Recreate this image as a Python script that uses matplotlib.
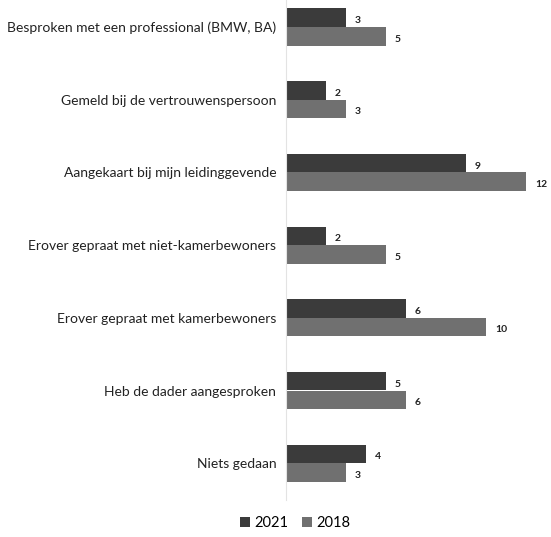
import matplotlib
matplotlib.use("Agg")
import matplotlib.pyplot as plt
import numpy as np

categories = [
    "Besproken met een professional (BMW, BA)",
    "Gemeld bij de vertrouwenspersoon",
    "Aangekaart bij mijn leidinggevende",
    "Erover gepraat met niet-kamerbewoners",
    "Erover gepraat met kamerbewoners",
    "Heb de dader aangesproken",
    "Niets gedaan",
]
values_2021 = [3, 2, 9, 2, 6, 5, 4]
values_2018 = [5, 3, 12, 5, 10, 6, 3]
series_names = ["2021", "2018"]

c2021 = "#3b3b3b"
c2018 = "#707070"

plt.rcParams['font.family'] = ['Lato', 'DejaVu Sans']

W, H = 551, 537
fig = plt.figure(figsize=(W / 100, H / 100), dpi=100)
left_px, right_px, top_px, bot_px = 286, 551, 0, 500
ax = fig.add_axes([left_px / W, 1 - bot_px / H, (right_px - left_px) / W, (bot_px - top_px) / H])

y = np.arange(len(categories))
h = 0.255
b1 = ax.barh(y - h / 2, values_2021, height=h, color=c2021, label=series_names[0])
b2 = ax.barh(y + h / 2, values_2018, height=h, color=c2018, label=series_names[1])

for bars, vals in ((b1, values_2021), (b2, values_2018)):
    for rect, v in zip(bars, vals):
        ax.text(rect.get_width() + 0.45, rect.get_y() + rect.get_height() / 2 + 0.04, str(v),
                ha="left", va="center", fontsize=7.5, fontweight="bold", color="#222222")

ax.set_xlim(0, (right_px - left_px) / 20)
ax.set_ylim((bot_px - 27) / 72.7, -27 / 72.7)
ax.set_yticks(y)
ax.set_yticklabels(categories, fontsize=10, color="#222222")
ax.tick_params(axis="y", length=0, pad=7)
ax.set_xticks([])
for s in ["top", "right", "bottom"]:
    ax.spines[s].set_visible(False)
ax.spines["left"].set_color("#e3e3e3")
ax.spines["left"].set_linewidth(0.8)

fig.legend(handles=[b1, b2], labels=series_names, loc="center",
           bbox_to_anchor=(295 / W, 1 - 523 / H), ncol=2, frameon=False,
           fontsize=10.5, handlelength=0.7, handleheight=0.7, handletextpad=0.3,
           columnspacing=0.9)

fig.savefig("out.png", dpi=100, facecolor="white")
